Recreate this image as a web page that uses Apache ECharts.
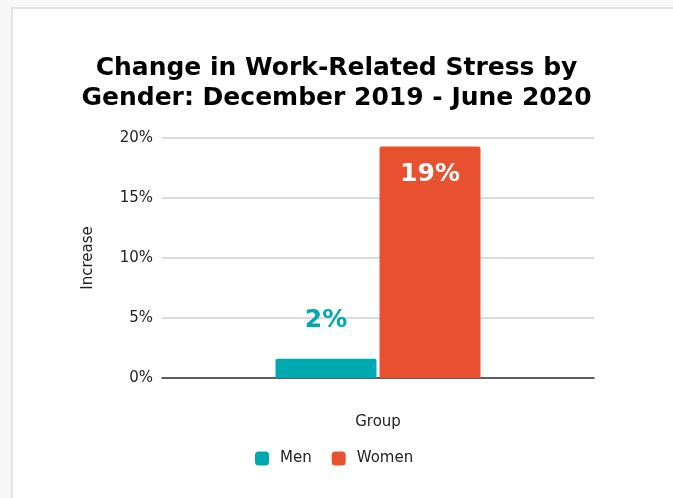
<!DOCTYPE html>
<html>
<head>
<meta charset="utf-8">
<script src="https://cdn.jsdelivr.net/npm/echarts@6/dist/echarts.min.js"></script>
<style>
	html, body { margin: 0; padding: 0; background: #f7f7f7; }
	#frame {
		position: absolute; left: 11px; top: 7px; width: 660px; height: 495px;
		background: #fff; border: 2px solid #e2e2e2; border-bottom: none;
	}
	#chart { position: absolute; left: 0; top: 0; width: 673px; height: 498px; }
</style>
</head>
<body>
<div id="frame"></div>
<div id="chart"></div>
<script>
// data
var categories = ['Group']
var seriesNames = ['Men', 'Women']
var menValues = [1.6]
var womenValues = [19.3]
var yTicks = [0, 5, 10, 15, 20]

var font = 'DejaVu Sans'

var chart = echarts.init(document.getElementById('chart'))
chart.setOption({
	backgroundColor: 'transparent',
	textStyle: { fontFamily: font },
	title: {
		text: 'Change in Work-Related Stress by\nGender: December 2019 - June 2020',
		left: 'center',
		top: 48,
		textStyle: {
			fontFamily: font,
			fontSize: 25,
			fontWeight: 'bold',
			color: '#000',
			lineHeight: 30
		}
	},
	legend: {
		data: seriesNames,
		bottom: 27,
		left: 250,
		icon: 'roundRect',
		itemWidth: 14,
		itemHeight: 14,
		itemGap: 20,
		textStyle: { fontFamily: font, fontSize: 15, color: '#222', padding: [0, 0, 0, 6] }
	},
	grid: {
		left: 162,
		right: 79,
		top: 138,
		bottom: 120
	},
	xAxis: {
		type: 'category',
		data: categories,
		name: 'Group',
		nameLocation: 'middle',
		nameGap: 37,
		nameTextStyle: { fontFamily: font, fontSize: 15, color: '#222' },
		axisLabel: { show: false },
		axisTick: { show: false },
		axisLine: { lineStyle: { color: '#333', width: 1.5 } }
	},
	yAxis: {
		type: 'value',
		min: yTicks[0],
		max: yTicks[yTicks.length - 1],
		interval: 5,
		name: 'Increase',
		nameLocation: 'middle',
		nameGap: 66,
		nameTextStyle: { fontFamily: font, fontSize: 15, color: '#222' },
		axisLabel: {
			formatter: '{value}%',
			fontFamily: font,
			fontSize: 15,
			color: '#222',
			margin: 9
		},
		axisLine: { show: false },
		axisTick: { show: false },
		splitLine: { lineStyle: { color: '#cfcfcf', width: 1.5 } }
	},
	series: [
		{
			name: seriesNames[0],
			type: 'bar',
			data: menValues,
			barWidth: 101,
			barGap: '3%',
			itemStyle: { color: '#00a9b0', borderRadius: [2, 2, 0, 0] },
			label: {
				show: true,
				position: 'top',
				distance: 26,
				formatter: function (p) { return Math.round(p.value) + '%' },
				fontFamily: font,
				fontSize: 25,
				fontWeight: 'bold',
				color: '#00a9b0'
			}
		},
		{
			name: seriesNames[1],
			type: 'bar',
			data: womenValues,
			barWidth: 101,
			itemStyle: { color: '#e8512f', borderRadius: [2, 2, 0, 0] },
			label: {
				show: true,
				position: 'insideTop',
				distance: 16,
				formatter: function (p) { return Math.round(p.value) + '%' },
				fontFamily: font,
				fontSize: 25,
				fontWeight: 'bold',
				color: '#fff'
			}
		}
	]
})
</script>
</body>
</html>
